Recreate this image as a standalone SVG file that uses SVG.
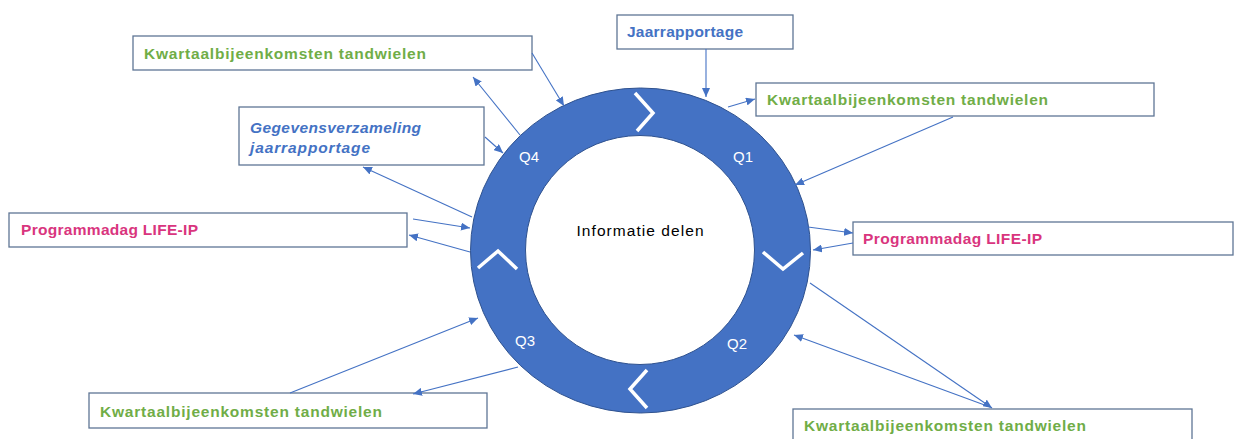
<svg xmlns="http://www.w3.org/2000/svg" width="1239" height="439" viewBox="0 0 1239 439">
<style>
.box{fill:#ffffff;stroke:#5F7695;stroke-width:1.3}
.t{font-family:"Liberation Sans",Arial,sans-serif;font-weight:bold;font-size:15.5px}
.green{fill:#70AD47}
.blue{fill:#4472C4}
.pink{fill:#D9357E}
.q{font-family:"Liberation Sans",Arial,sans-serif;font-size:15px;fill:#ffffff}
.con line{stroke:#4472C4;stroke-width:1.1;marker-end:url(#ah)}
.chev{fill:none;stroke:#ffffff;stroke-width:3.5}
</style>
<defs>
<marker id="ah" markerUnits="userSpaceOnUse" markerWidth="10" markerHeight="8" refX="9" refY="4" orient="auto">
<path d="M0,0 L9,4 L0,8 z" fill="#4472C4"/>
</marker>
</defs>
<rect width="1239" height="439" fill="#ffffff"/>
<g id="cycle">
<path d="M470.5,250.5 a170,162.5 0 1,0 340,0 a170,162.5 0 1,0 -340,0 Z M525.5,250 a114.5,114.5 0 1,0 229,0 a114.5,114.5 0 1,0 -229,0 Z" fill="#4472C4" fill-rule="evenodd" stroke="#2F528F" stroke-width="1"/>
<polyline class="chev" points="635,93 653,113 637,131"/>
<polyline class="chev" points="763,252 783,269 803,253"/>
<polyline class="chev" points="647,370 630,389 647,408"/>
<polyline class="chev" points="478,268 498,251 517,269"/>
<text class="q" x="519" y="162">Q4</text>
<text class="q" x="733" y="162">Q1</text>
<text class="q" x="515" y="346">Q3</text>
<text class="q" x="727" y="349">Q2</text>
<text x="640" y="236" text-anchor="middle" font-family="'Liberation Sans',Arial,sans-serif" font-size="15.5px" fill="#000000" textLength="127">Informatie delen</text>
</g>
<g id="kwartaal-q4">
<rect class="box" x="133" y="36" width="399" height="34"/>
<text class="t green" x="144" y="59" textLength="282">Kwartaalbijeenkomsten tandwielen</text>
</g>
<g id="jaarrapportage">
<rect class="box" x="617" y="15" width="176" height="34"/>
<text class="t blue" x="627" y="37" textLength="116">Jaarrapportage</text>
</g>
<g id="kwartaal-q1">
<rect class="box" x="756" y="83" width="398" height="33"/>
<text class="t green" x="767" y="105" textLength="281">Kwartaalbijeenkomsten tandwielen</text>
</g>
<g id="gegevensverzameling">
<rect class="box" x="239" y="107" width="245" height="58"/>
<text class="t blue" font-style="italic" x="250" y="133" textLength="171">Gegevensverzameling</text>
<text class="t blue" font-style="italic" x="250" y="153" textLength="120">jaarrapportage</text>
</g>
<g id="programmadag-left">
<rect class="box" x="9" y="213" width="398" height="34"/>
<text class="t pink" x="21" y="235" textLength="177">Programmadag LIFE-IP</text>
</g>
<g id="programmadag-right">
<rect class="box" x="853" y="222" width="380" height="33"/>
<text class="t pink" x="863" y="244" textLength="179">Programmadag LIFE-IP</text>
</g>
<g id="kwartaal-q3">
<rect class="box" x="89" y="393" width="398" height="35"/>
<text class="t green" x="100" y="417" textLength="282">Kwartaalbijeenkomsten tandwielen</text>
</g>
<g id="kwartaal-q2">
<rect class="box" x="793" y="409" width="399" height="40"/>
<text class="t green" x="804" y="431" textLength="282">Kwartaalbijeenkomsten tandwielen</text>
</g>
<g id="connectors" class="con">
<line x1="532" y1="53" x2="564" y2="106"/>
<line x1="520" y1="135" x2="473" y2="77"/>
<line x1="485" y1="137" x2="503" y2="153"/>
<line x1="472" y1="217" x2="363" y2="167"/>
<line x1="413" y1="219" x2="470" y2="228"/>
<line x1="470" y1="252" x2="409" y2="235"/>
<line x1="706" y1="49" x2="706" y2="97"/>
<line x1="728" y1="107" x2="755" y2="99"/>
<line x1="953" y1="117" x2="795" y2="185"/>
<line x1="808" y1="227" x2="853" y2="233"/>
<line x1="853" y1="243" x2="813" y2="250"/>
<line x1="810" y1="283" x2="992" y2="408"/>
<line x1="990" y1="407" x2="794" y2="335"/>
<line x1="290" y1="393" x2="478" y2="318"/>
<line x1="518" y1="367" x2="413" y2="394"/>
</g>
</svg>
